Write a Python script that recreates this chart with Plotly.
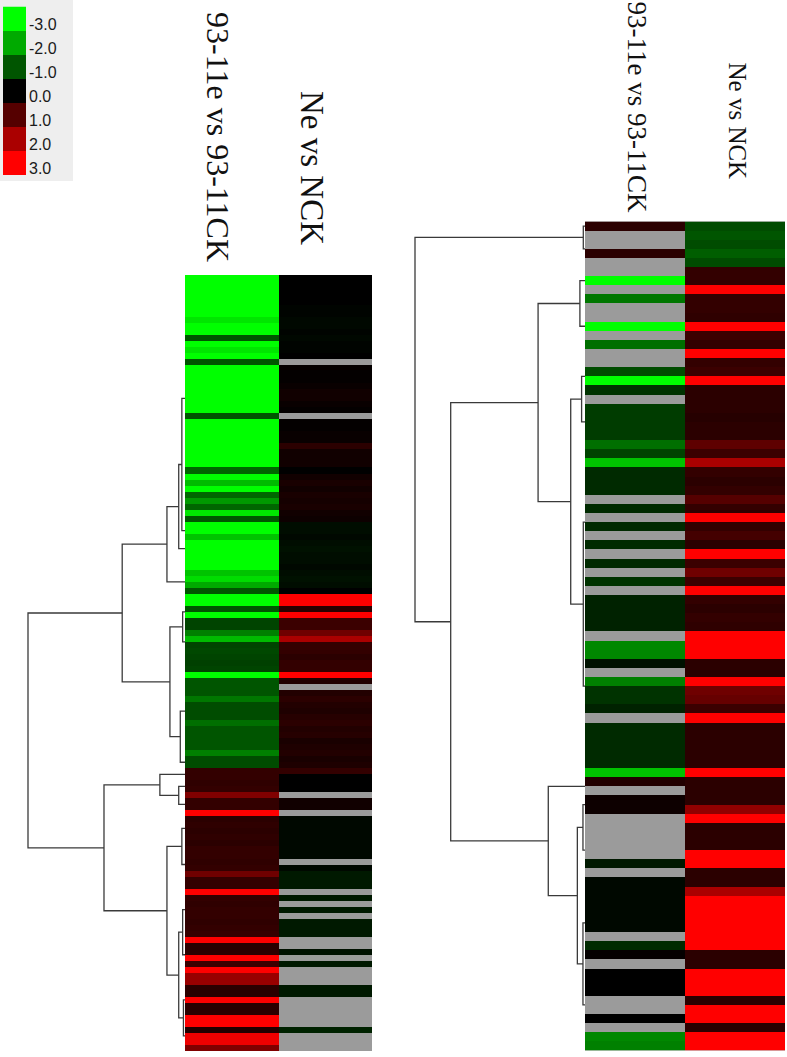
import plotly.graph_objects as go

N = None  # missing value (drawn grey)

W, H = 787, 1057

# ---------------- data ----------------
columns = ["93-11e vs 93-11CK", "Ne vs NCK"]
legend_values = [-3, -2, -1, 0, 1, 2, 3]
legend_labels = ["-3.0", "-2.0", "-1.0", "0.0", "1.0", "2.0", "3.0"]

left_c1 = [
    -3, -3, -3, -3, -3, -3, -3, -2.7, -3, -3,
    -1.0, -3, -2.7, -3, -1.0, -3, -3, -3, -3, -3,
    -3, -3, -3, -1.0, -3, -3, -3, -3, -3, -3,
    -3, -3, -1.2, -3, -2.2, -3, -1.2, -1.8, -1.2, -2.7,
    -1.0, -3, -3, -2.3, -3, -3, -3, -3, -3, -2.3,
    -2.6, -2.0, -1.0, -3, -3, -1.0, -3, -0.8, -0.8, -1.5,
    -2.2, -0.8, -0.85, -0.8, -0.75, -0.8, -3, -1.0, -1.0, -1.0,
    -1.4, -0.9, -0.9, -0.9, -1.3, -1.0, -1.0, -1.0, -1.0, -1.5,
    -0.9, -0.9, 0.6, 0.6, 0.55, 0.6, 1.5, 0.6, 0.6, 3,
    0.5, 0.55, 0.5, 0.55, 0.5, 0.6, 0.6, 0.55, 0.6, 1.3,
    0.6, 0.6, 3, 0.6, 0.55, 0.6, 0.6, 0.55, 0.6, 0.65,
    3, 0.5, 0.5, 3, 0.7, 3, 1.8, 1.8, 0.5, 0.5,
    3, 0.5, 0.5, 3, 3, 0.4, 2.8, 2.8, 1.5,
]
left_c2 = [
    0, 0, 0, 0, 0, -0.05, -0.05, -0.1, -0.1, -0.05,
    -0.1, -0.05, -0.05, 0, N, 0.05, 0.05, 0.05, 0.1, 0.2,
    0.2, 0.1, 0.05, N, 0.05, 0.05, 0.1, 0.1, 0.5, 0.2,
    0.2, 0.2, 0, 0.2, 0.3, 0.2, 0.3, 0.25, 0.3, 0.2,
    0.15, -0.15, -0.15, -0.1, -0.15, -0.2, -0.15, -0.15, -0.1, -0.15,
    -0.2, -0.15, 0, 3, 3, 0.5, 3, 0.7, 0.7, 1.3,
    2.0, 0.6, 0.6, 0.5, 0.6, 0.6, 3, 0.4, N, 0.4,
    0.5, 0.4, 0.35, 0.45, 0.5, 0.4, 0.45, 0.3, 0.35, 0.4,
    0.3, 0.35, 0.6, 0, 0, 0, N, 0.2, 0.2, N,
    -0.1, -0.1, -0.1, -0.1, -0.1, -0.1, -0.1, N, -0.1, -0.3,
    -0.3, -0.3, N, -0.3, N, -0.3, N, -0.3, -0.3, -0.3,
    N, N, -0.2, N, -0.3, N, N, N, -0.3, -0.3,
    N, N, N, N, N, -0.4, N, N, N,
]

right_c1 = [
    0.5, N, N, 0.5, N, N, -3, N, -1.4, N,
    N, -3, N, -1.3, N, N, -0.9, -3, -0.6, N,
    -0.7, -0.7, -0.7, -0.7, -1.3, -0.8, -2.3, -0.5, -0.5, -0.5,
    N, -0.5, N, -0.5, N, -0.5, N, -0.5, N, -0.6,
    N, -0.4, -0.4, -0.4, -0.4, N, -1.6, -1.6, -0.2, N,
    -1.5, -0.6, -0.6, -0.4, N, -0.5, -0.5, -0.5, -0.5, -0.5,
    -2.3, 0.4, N, 0.15, 0.15, N, N, N, N, N,
    -0.3, N, -0.1, -0.1, -0.1, -0.1, -0.1, -0.1, N, -0.5,
    0.05, N, 0, 0, 0, N, N, 0, N, -1.6,
    -1.5,
]
right_c2 = [
    -0.9, -1.0, -0.9, -1.1, -0.9, 0.6, 0.6, 3, 0.6, 0.6,
    0.55, 3, 0.7, 0.6, 3, 0.6, 0.7, 3, 0.5, 0.5,
    0.5, 0.45, 0.5, 0.5, 1.1, 0.7, 2.0, 0.6, 0.5, 0.6,
    1.0, 0.6, 3, 0.6, 0.8, 0.5, 3, 0.7, 1.3, 0.7,
    3, 0.6, 0.5, 0.6, 0.55, 3, 3, 3, 0.5, 0.5,
    3, 1.3, 1.2, 0.7, 3, 0.5, 0.5, 0.5, 0.5, 0.5,
    3, 0.5, 0.5, 0.5, 1.7, 3, 0.5, 0.5, 0.5, 3,
    3, 0.5, 0.5, 2.0, 3, 3, 3, 3, 3, 3,
    0.5, 0.5, 3, 3, 3, 0.5, 3, 3, 0.5, 3,
    3,
]

# dendrograms: (height, child, child); leaves are row ranges (first, last)
left_tree = (1.0,
             (0.40,
              (0.115,
               (0.04, (0.02, (0, 40), (41, 43)), (44, 46)),
               (47, 54)),
              (0.096,
               (0.015, (55, 56), (57, 64)),
               (0.03, (65, 79), (80, 81)))),
             (0.516,
              (0.16, (82, 83), (0.04, (84, 85), (86, 89))),
              (0.115,
               (0.02, (90, 93), (94, 101)),
               (0.04, (0.015, (102, 108), (109, 116)),
                (0.01, (117, 123), (124, 128))))))

right_tree = (1.0,
              (0.01, (0, 0), (1, 4)),
              (0.79,
               (0.276,
                (0.03, (5, 7), (8, 14)),
                (0.084, (0.02, (15, 18), (19, 24)), (0.01, (25, 40), (41, 60)))),
               (0.216,
                (61, 62),
                (0.045, (0.012, (63, 64), (65, 72)), (0.012, (73, 80), (81, 90))))))

assert len(left_c1) == len(left_c2) == 129
assert len(right_c1) == len(right_c2) == 91

# ---------------- helpers ----------------
def px_x(x):
    return x / W


def px_y(y):
    return 1 - y / H


def dendro_segments(node):
    xs, ys = [], []

    def walk(n):
        if len(n) == 2:
            return (n[0] + n[1]) / 2.0, 0.0
        h, a, b = n
        pa, ha = walk(a)
        pb, hb = walk(b)
        xs.extend([ha, h, h, hb, None])
        ys.extend([pa, pa, pb, pb, None])
        return (pa + pb) / 2.0, h

    walk(node)
    return xs, ys


colorscale = [[0, "#00ff00"], [0.5, "#000000"], [1, "#ff0000"]]
GREY = "#9b9b9b"
LINE = "#3a3a3a"

fig = go.Figure()


def add_block(c1, c2, tree, xa_heat, ya, xa_den):
    z = [[a, b] for a, b in zip(c1, c2)]
    fig.add_trace(go.Heatmap(z=z, x=[0, 1], y=list(range(len(z))),
                             colorscale=colorscale, zmin=-3, zmax=3,
                             showscale=False, xaxis=xa_heat, yaxis=ya,
                             hoverongaps=False))
    dx, dy = dendro_segments(tree)
    fig.add_trace(go.Scatter(x=dx, y=dy, mode="lines",
                             line=dict(color=LINE, width=1.3),
                             xaxis=xa_den, yaxis=ya, showlegend=False,
                             hoverinfo="skip"))


add_block(left_c1, left_c2, left_tree, "x", "y", "x2")
add_block(right_c1, right_c2, right_tree, "x3", "y3", "x4")

# colour key
fig.add_trace(go.Heatmap(z=[[v] for v in legend_values], x=[0],
                         y=list(range(len(legend_values))),
                         colorscale=colorscale, zmin=-3, zmax=3,
                         showscale=False, xaxis="x5", yaxis="y5"))

hidden = dict(visible=False, showgrid=False, zeroline=False, fixedrange=True)

nL, nR = len(left_c1), len(right_c1)
left_top, left_bot = 275, 1051
right_top, right_bot = 221.5, 1050.5
l_edge, l_root = 185, 28
r_edge, r_root = 585, 415
ext = 1.02

fig.update_layout(
    width=W, height=H, margin=dict(l=0, r=0, t=0, b=0),
    paper_bgcolor="white", plot_bgcolor="rgba(0,0,0,0)", showlegend=False,
    xaxis=dict(hidden, domain=[px_x(185), px_x(372)], range=[-0.5, 1.5], anchor="y"),
    yaxis=dict(hidden, domain=[px_y(left_bot), px_y(left_top)],
               range=[nL - 0.5, -0.5], anchor="x"),
    xaxis2=dict(hidden, domain=[px_x(l_edge - ext * (l_edge - l_root)), px_x(l_edge)],
                range=[ext, 0], anchor="y"),
    xaxis3=dict(hidden, domain=[px_x(585), px_x(785)], range=[-0.5, 1.5], anchor="y3"),
    yaxis3=dict(hidden, domain=[px_y(right_bot), px_y(right_top)],
                range=[nR - 0.5, -0.5], anchor="x3"),
    xaxis4=dict(hidden, domain=[px_x(r_edge - ext * (r_edge - r_root)), px_x(r_edge)],
                range=[ext, 0], anchor="y3"),
    xaxis5=dict(hidden, domain=[px_x(3), px_x(26)], range=[-0.5, 0.5], anchor="y5"),
    yaxis5=dict(hidden, domain=[px_y(175), px_y(6.5)],
                range=[len(legend_values) - 0.5, -0.5], anchor="x5"),
)

shapes = [
    dict(type="rect", xref="paper", yref="paper", x0=0, x1=px_x(73),
         y0=px_y(181), y1=1, fillcolor="#eeeeee", line=dict(width=0), layer="below"),
    dict(type="rect", xref="x domain", yref="y domain", x0=0, x1=1, y0=0, y1=1,
         fillcolor=GREY, line=dict(width=0), layer="below"),
    dict(type="rect", xref="x3 domain", yref="y3 domain", x0=0, x1=1, y0=0, y1=1,
         fillcolor=GREY, line=dict(width=0), layer="below"),
]
fig.update_layout(shapes=shapes)

annotations = []
for i, lab in enumerate(legend_labels):
    annotations.append(dict(text=lab, xref="paper", yref="y5", x=px_x(26.5), y=i,
                            xanchor="left", yanchor="middle", yshift=-6,
                            showarrow=False,
                            font=dict(family="Liberation Sans, Arial", size=16, color="#1a1a1a")))

serif = "Liberation Serif, Times New Roman"
col_label_pos = [
    # text, centre x, anchor y, anchor side, font size
    (columns[0], 218, 264, "bottom", 32),
    (columns[1], 312, 247, "bottom", 33),
    (columns[0], 637, 214, "bottom", 27),
    (columns[1], 737, 181, "bottom", 25),
]
for text, xc, ya, side, fs in col_label_pos:
    annotations.append(dict(text=text, xref="paper", yref="paper",
                            x=px_x(xc), y=px_y(ya), xanchor="center", yanchor=side,
                            textangle=90, showarrow=False,
                            font=dict(family=serif, size=fs, color="#111111")))
fig.update_layout(annotations=annotations)

fig.write_html("out.html", config={"displayModeBar": False},
               post_script="document.body.style.margin='0';document.body.style.overflow='hidden';")
